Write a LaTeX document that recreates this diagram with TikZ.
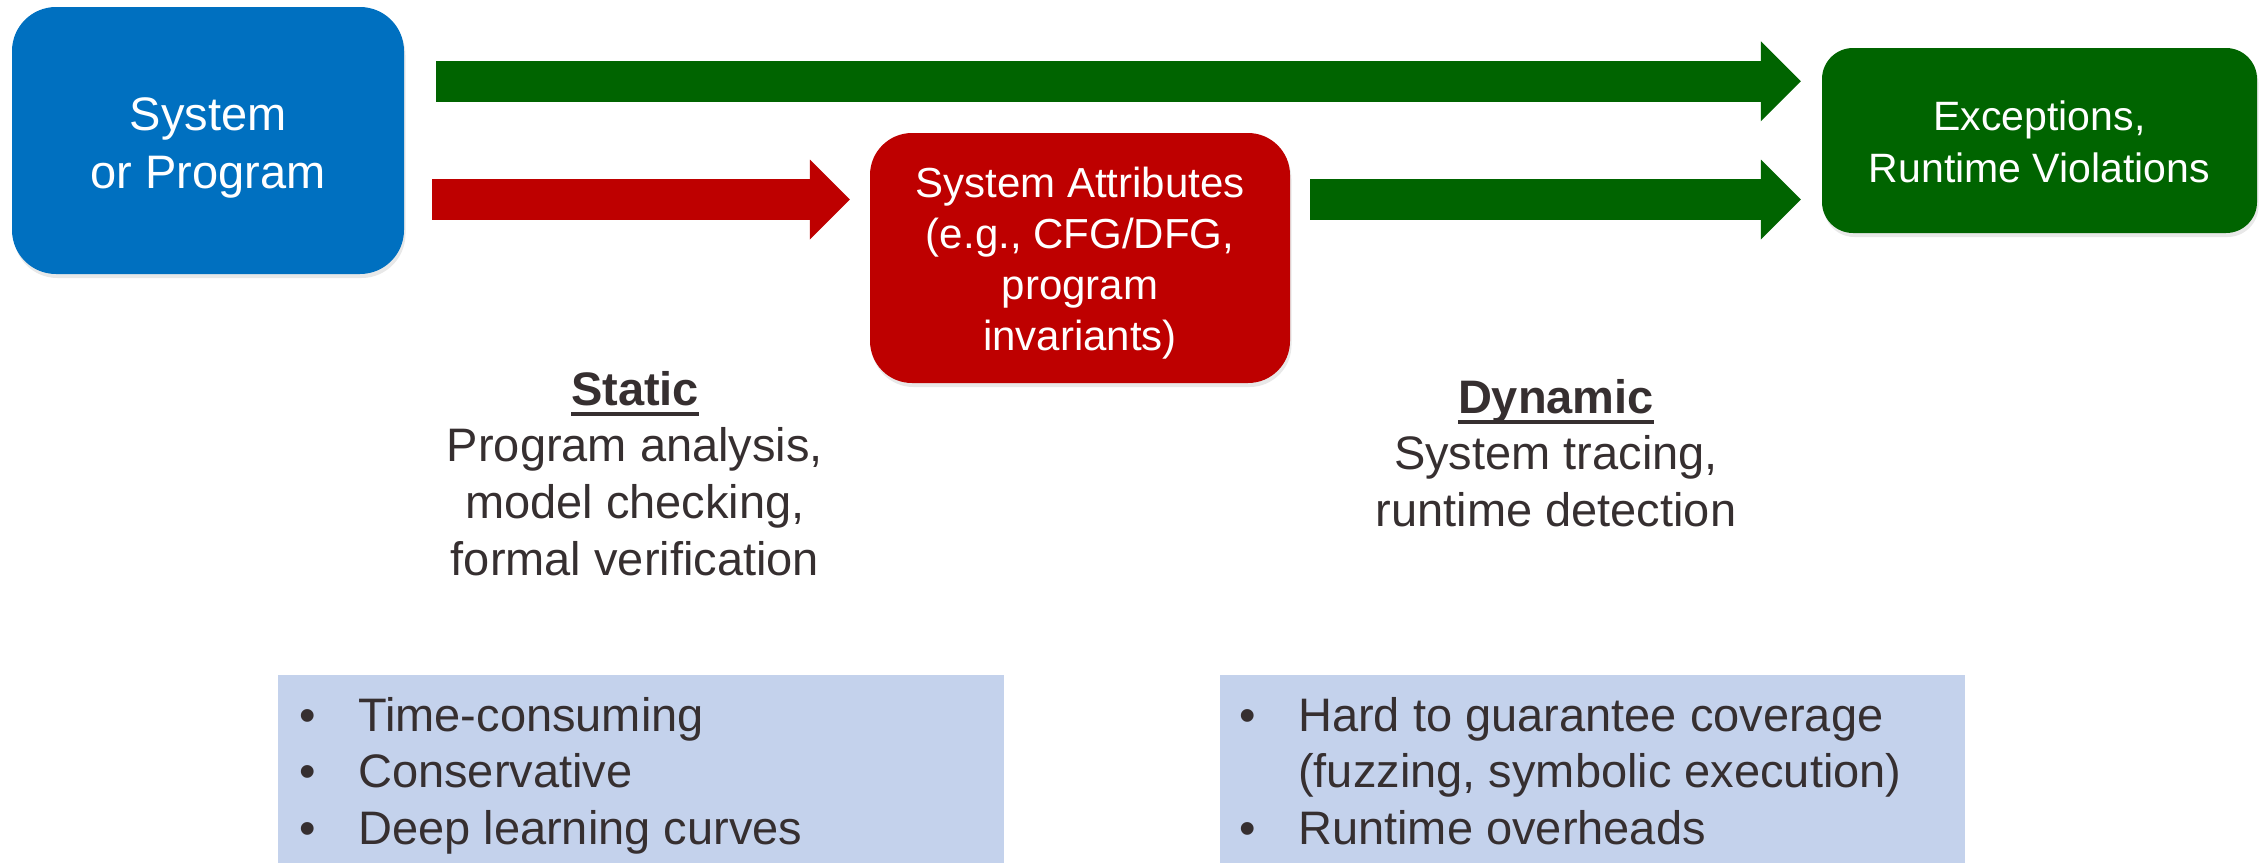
\documentclass[tikz,border=0pt]{standalone}
\usepackage{fontspec}
\setmainfont{Liberation Sans}
\usetikzlibrary{arrows.meta,calc,shadows}

\definecolor{progblue}{RGB}{0,112,192}
\definecolor{attrred}{RGB}{190,0,0}
\definecolor{flowgreen}{RGB}{0,100,0}
\definecolor{panelblue}{RGB}{196,210,236}
\definecolor{inkgray}{RGB}{54,47,48}

% bold heading with a thick underline
\newsavebox{\headbox}
\newcommand{\headword}[1]{\sbox{\headbox}{\bfseries #1}\rlap{\rule[-10.7pt]{\wd\headbox}{4pt}}\usebox{\headbox}}
% line strut: keeps every caption line on a fixed pitch
\newcommand{\ls}{\rule[-16.7pt]{0pt}{56.7pt}}
% invisible top / bottom struts that set where a label sits inside its box
\newcommand{\topstrut}[1]{\rule{0pt}{#1}}
\newcommand{\botstrut}[1]{\rule[-#1]{0pt}{#1}}
\newcommand{\bul}{\makebox[59pt][l]{•}}

\begin{document}
\begin{tikzpicture}[x=1pt,y=-1pt,
  stage/.style={rectangle, inner sep=0pt, text=white, align=center,
    drop shadow={shadow xshift=1.5pt, shadow yshift=-4pt, opacity=0.18}},
  flow/.style={line width=41pt, line cap=butt,
    -{Triangle[length=40pt,width=80pt,line width=0pt]}},
  caption/.style={inner sep=0pt, align=center, text=inkgray,
    font=\fontsize{47}{56.7}\selectfont, anchor=north},
  panel/.style={rectangle, fill=panelblue, inner sep=0pt, anchor=north west},
  bullets/.style={inner sep=0pt, align=left, anchor=north west, text=inkgray,
    font=\fontsize{47}{56.7}\selectfont}]

\useasboundingbox (0,0) rectangle (2264,863);

% stages
\node[stage, fill=progblue, minimum width=392pt, minimum height=267pt,
      rounded corners=44pt, font=\fontsize{47}{58}\selectfont]
  (blue) at (208,140.5) {\topstrut{48pt}System\\or Program\botstrut{11pt}};
\node[stage, fill=attrred, minimum width=420pt, minimum height=250pt,
      rounded corners=42pt, font=\fontsize{42}{51}\selectfont]
  (red) at (1080,258) {\topstrut{42pt}System Attributes\\(e.g., CFG/DFG,\\program\\invariants)\botstrut{11pt}};
\node[stage, fill=flowgreen, minimum width=435pt, minimum height=185pt,
      rounded corners=31pt, font=\fontsize{41}{52}\selectfont]
  (green) at (2039.5,140.5) {\topstrut{40pt}Exceptions,\\Runtime Violations\botstrut{9pt}};

% block arrows
\draw[flow, flowgreen] ($(blue.north east)+(32,74.5)$) -- ($(green.north west)+(-21,33.5)$);
\draw[flow, attrred] ($(blue.east)+(28,59)$) -- ($(red.west)+(-20,-58.5)$);
\draw[flow, flowgreen] ($(red.east)+(20,-58.5)$) -- ($(green.west)+(-21,59)$);

% captions
\node[caption] (static) at (635,365)
  {\ls\headword{Static}\\\ls Program analysis,\\\ls model checking,\\\ls formal verification};
\node[caption] (dynamic) at (1556,373)
  {\ls\headword{Dynamic}\\\ls System tracing,\\\ls runtime detection};

% drawback panels
\node[panel, minimum width=726pt, minimum height=188pt] (lpanel) at (278,675) {};
\node[bullets] (lnotes) at ($(lpanel.north west)+(21,16)$)
  {\ls\bul Time-consuming\\\ls\bul Conservative\\\ls\bul Deep learning curves};

\node[panel, minimum width=745pt, minimum height=188pt] (rpanel) at (1220,675) {};
\node[bullets] (rnotes) at ($(rpanel.north west)+(19,16)$)
  {\ls\bul Hard to guarantee coverage\\\ls\hspace*{59pt}(fuzzing, symbolic execution)\\\ls\bul Runtime overheads};

\end{tikzpicture}
\end{document}
